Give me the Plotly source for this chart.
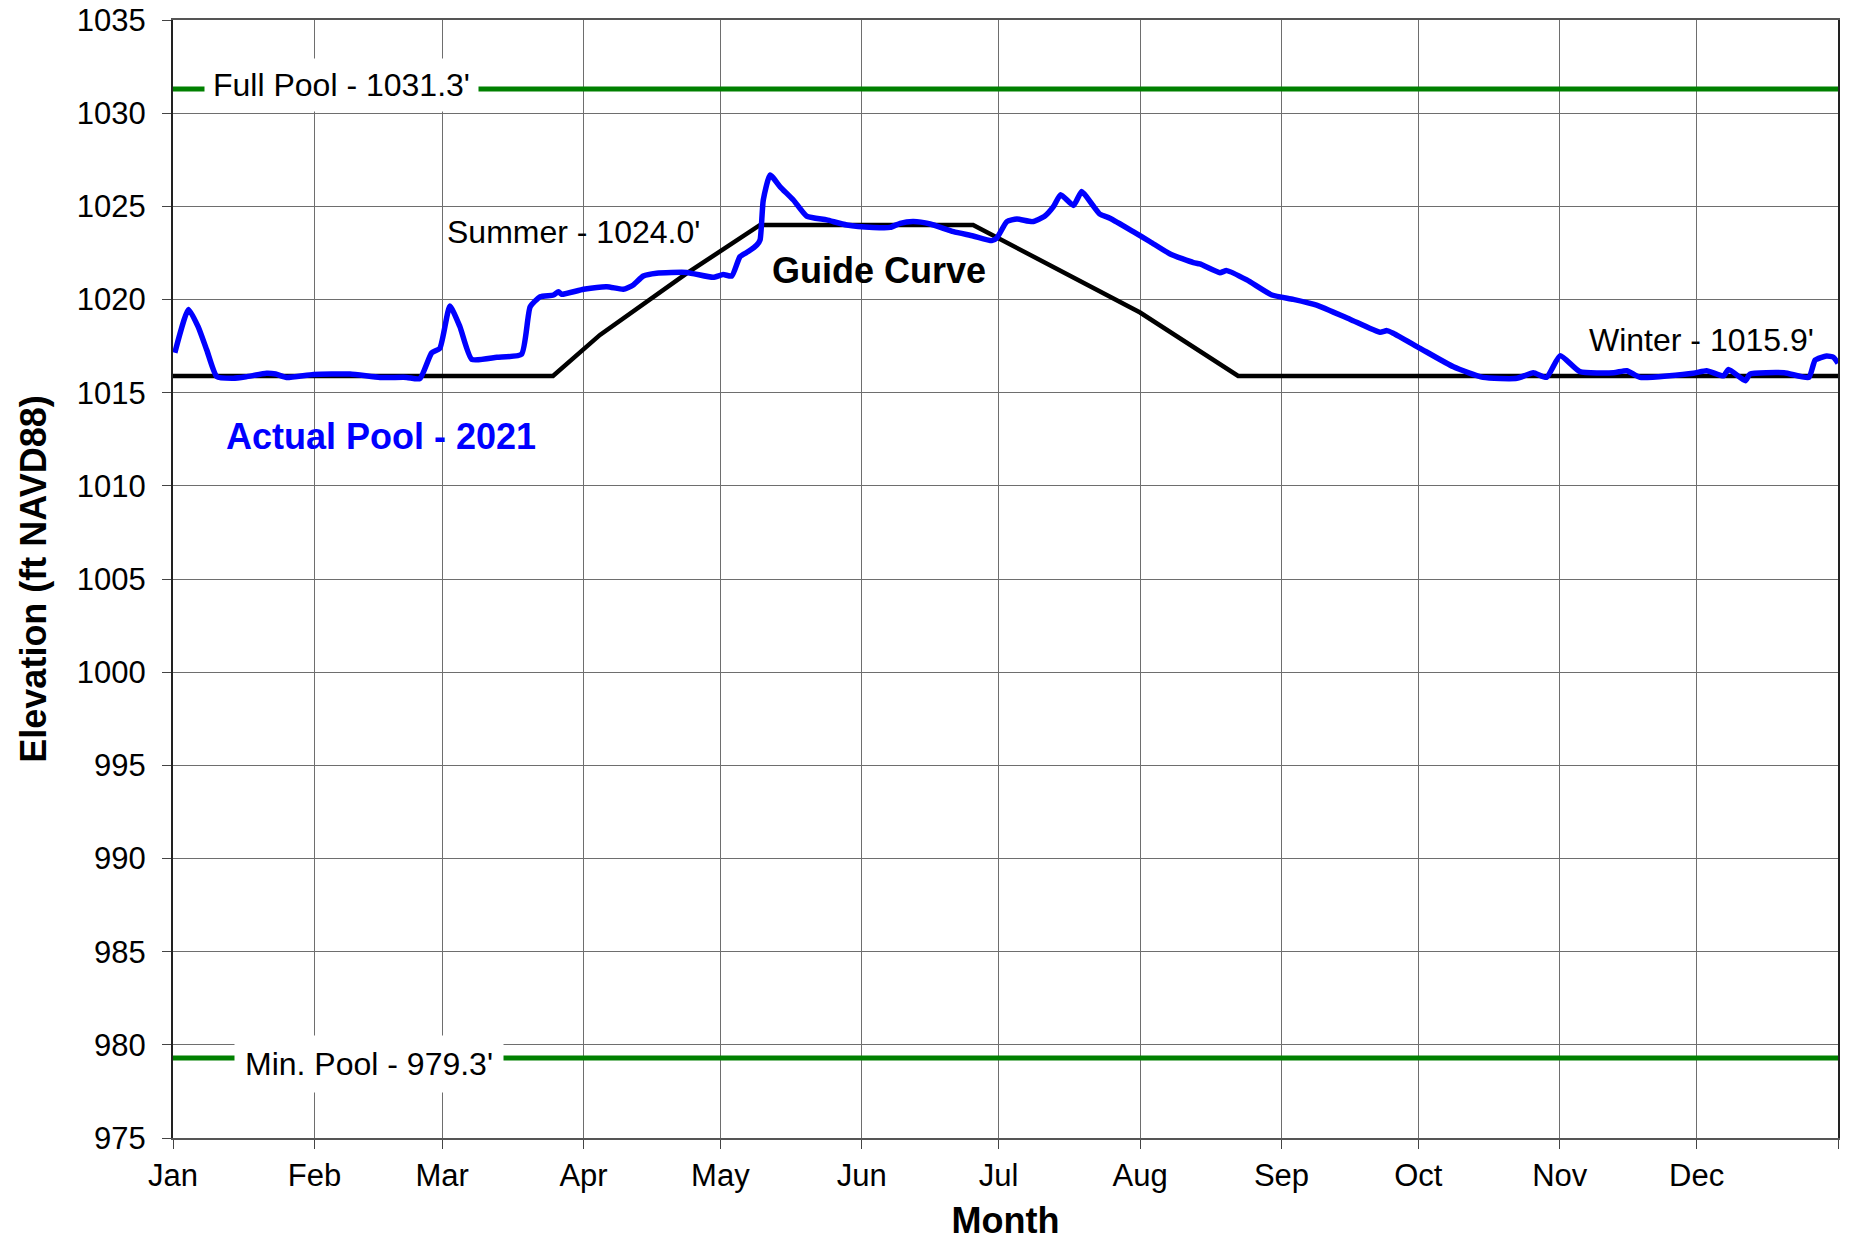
import pandas as pd
import plotly.graph_objects as go

# day of year (0 = Jan 1) and elevation (ft NAVD88)
actual_days = [
    0.4, 3.4, 5.5, 7.4, 9.6, 13.2, 16.0, 20.5, 22.5, 24.9, 30.8, 38.8, 45.4, 51.2, 54.1,
    56.7, 58.5, 60.7, 62.9, 65.5, 71.0, 76.4, 78.3, 80.5, 83.4, 84.5, 85.2, 90.0, 95.1,
    98.7, 100.9, 103.1, 106.0, 112.6, 118.4, 120.6, 122.5, 124.3, 126.1, 128.0, 128.7,
    129.4, 130.9, 133.1, 136.0, 138.9, 143.3, 147.7, 153.5, 157.2, 159.4, 162.3, 166.0,
    171.1, 175.4, 179.5, 180.6, 182.8, 185.0, 188.4, 191.0, 193.0, 194.6, 197.4, 199.2,
    201.5, 203.2, 205.4, 210.5, 214.2, 218.6, 223.7, 225.1, 229.5, 231.0, 235.4, 240.9,
    245.6, 250.7, 258.0, 264.6, 266.1, 267.5, 273.4, 280.7, 287.2, 294.6, 298.2, 301.1,
    304.1, 308.4, 315.8, 318.7, 321.6, 333.3, 336.2, 339.9, 341.0, 344.7, 345.7, 353.2,
    358.6, 360.0, 362.5, 364.0, 365.0,
]
actual_elev = [
    1017.14, 1019.47, 1018.54, 1017.29, 1015.86, 1015.77, 1015.85, 1016.04, 1016.0, 1015.82,
    1015.98, 1016.0, 1015.82, 1015.82, 1015.75, 1017.14, 1017.38, 1019.65, 1018.54, 1016.79,
    1016.9, 1017.06, 1019.61, 1020.15, 1020.24, 1020.42, 1020.28, 1020.55, 1020.69, 1020.55,
    1020.78, 1021.26, 1021.41, 1021.45, 1021.19, 1021.34, 1021.26, 1022.30, 1022.57, 1022.93,
    1023.2, 1025.34, 1026.68, 1026.05, 1025.34, 1024.48, 1024.27, 1024.0, 1023.87, 1023.87,
    1024.09, 1024.18, 1024.05, 1023.64, 1023.41, 1023.16, 1023.3, 1024.18, 1024.32, 1024.18,
    1024.45, 1024.98, 1025.62, 1025.05, 1025.79, 1025.1, 1024.58, 1024.36, 1023.64, 1023.1,
    1022.44, 1021.98, 1021.91, 1021.44, 1021.55, 1021.05, 1020.24, 1020.01, 1019.7, 1018.94,
    1018.24, 1018.33, 1018.19, 1017.38, 1016.39, 1015.82, 1015.77, 1016.07, 1015.82, 1016.98,
    1016.13, 1016.07, 1016.18, 1015.82, 1016.04, 1016.18, 1015.9, 1016.25, 1015.64, 1016.0,
    1016.07, 1015.82, 1016.75, 1016.97, 1016.9, 1016.58,
]

guide_days = [0, 83.3, 93.6, 112.6, 128.7, 175.4, 212.0, 233.5, 365]
guide_elev = [1015.9, 1015.9, 1018.1, 1021.4, 1024.0, 1024.0, 1019.3, 1015.9, 1015.9]

full_pool = 1031.3
min_pool = 979.3

month_labels = ["Jan", "Feb", "Mar", "Apr", "May", "Jun", "Jul", "Aug", "Sep", "Oct", "Nov", "Dec", ""]

start = pd.Timestamp("2021-01-01")


def to_dates(days):
    return [start + pd.to_timedelta(d, unit="D") for d in days]


month_ticks = pd.date_range("2021-01-01", "2022-01-01", freq="MS")
x_end = pd.Timestamp("2022-01-01")

FONT = "Liberation Sans, Arial, sans-serif"

fig = go.Figure()

fig.add_trace(go.Scatter(
    x=[start, x_end], y=[full_pool, full_pool], mode="lines",
    line=dict(color="rgb(0,128,0)", width=5), showlegend=False,
))
fig.add_trace(go.Scatter(
    x=[start, x_end], y=[min_pool, min_pool], mode="lines",
    line=dict(color="rgb(0,128,0)", width=5), showlegend=False,
))
fig.add_trace(go.Scatter(
    x=to_dates(guide_days), y=guide_elev, mode="lines",
    line=dict(color="black", width=4.5), showlegend=False,
))
fig.add_trace(go.Scatter(
    x=to_dates(actual_days), y=actual_elev, mode="lines",
    line=dict(color="rgb(0,0,255)", width=5.5, shape="spline", smoothing=0.5),
    showlegend=False,
))

label_font = dict(family=FONT, size=32, color="black")


def at(day):
    return start + pd.to_timedelta(day, unit="D")


fig.add_annotation(x=at(37), y=full_pool, text="Full Pool - 1031.3'", showarrow=False,
                   font=label_font, bgcolor="white", borderpad=8, yshift=4)
fig.add_annotation(x=at(43), y=min_pool, text="Min. Pool - 979.3'", showarrow=False,
                   font=label_font, bgcolor="white", borderpad=10, yshift=-6)
fig.add_annotation(x=at(87.9), y=1023.62, text="Summer - 1024.0'", showarrow=False, font=label_font)
fig.add_annotation(x=at(335), y=1017.85, text="Winter - 1015.9'", showarrow=False, font=label_font)
fig.add_annotation(x=at(154.7), y=1021.58, text="<b>Guide Curve</b>", showarrow=False,
                   font=dict(family=FONT, size=36, color="black"))
fig.add_annotation(x=at(45.6), y=1012.67, text="<b>Actual Pool - 2021</b>", showarrow=False,
                   font=dict(family=FONT, size=36, color="rgb(0,0,255)"))

fig.update_layout(
    width=1849, height=1241,
    margin=dict(l=173, r=11, t=20, b=103),
    paper_bgcolor="white", plot_bgcolor="white",
    font=dict(family=FONT, size=31, color="black"),
)
fig.update_xaxes(
    type="date", range=[start, x_end], automargin=False,
    tickvals=list(month_ticks), ticktext=month_labels,
    ticks="outside", ticklen=9, tickcolor="#444", ticklabeloverflow="allow",
    showgrid=True, gridcolor="#6e6e6e", gridwidth=1.3,
    showline=True, linecolor="#555", linewidth=2, mirror=True,
    title=dict(text="<b>Month</b>", font=dict(size=36), standoff=17),
    tickfont=dict(size=31),
)
fig.update_yaxes(
    range=[975, 1035], dtick=5, automargin=False,
    ticks="outside", ticklen=9, tickcolor="#444", ticklabelstandoff=10,
    ticklabeloverflow="allow",
    showgrid=True, gridcolor="#6e6e6e", gridwidth=1.3,
    showline=True, linecolor="#222", linewidth=2, mirror=True,
    title=dict(text="<b>Elevation (ft NAVD88)</b>", font=dict(size=36), standoff=19),
    tickfont=dict(size=31), zeroline=False,
)

# drop the default page margin so the figure fills the window exactly
fig.write_html("out.html", config={"displayModeBar": False},
               post_script="document.body.style.margin='0px';")
